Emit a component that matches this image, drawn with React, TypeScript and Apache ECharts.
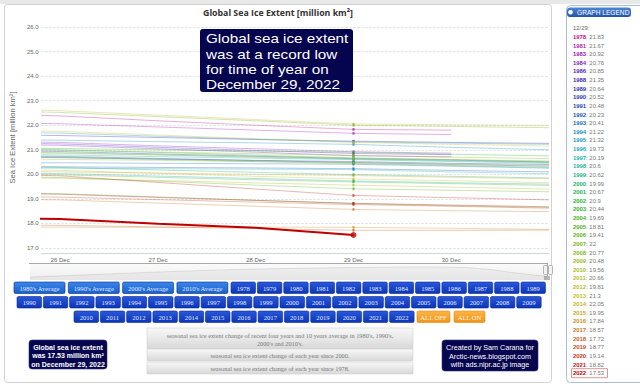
import React, { useEffect, useRef } from "react";
import * as echarts from "echarts";

// ---------- data ----------
const days = [25, 26, 27, 28, 29, 30, 31];
const dayTicks = [26, 27, 28, 29, 30];
const dayLabels = ["26 Dec", "27 Dec", "28 Dec", "29 Dec", "30 Dec"];
const recordDay = 29;

const y1978 = [22.5, 22.38, 22.18, 22.0, 21.83, 21.8, null];
const y1981 = [22.12, 22.06, 21.93, 21.8, 21.67, 21.62, null];
const y1983 = [21.37, 21.3, 21.16, 21.04, 20.92, 20.86, null];
const y1984 = [21.24, 21.18, 21.04, 20.9, 20.76, 20.71, null];
const y1986 = [21.3, 21.24, 21.1, 20.97, 20.85, 20.8, null];
const y1988 = [21.63, 21.58, 21.5, 21.42, 21.35, 21.3, 21.26];
const y1989 = [20.98, 20.93, 20.83, 20.74, 20.64, 20.58, 20.5];
const y1990 = [20.72, 20.68, 20.62, 20.57, 20.52, 20.45, 20.4];
const y1991 = [20.78, 20.73, 20.65, 20.56, 20.48, 20.4, 20.33];
const y1992 = [20.32, 20.31, 20.28, 20.26, 20.23, 20.16, 20.1];
const y1993 = [20.48, 20.47, 20.45, 20.43, 20.41, 20.33, 20.25];
const y1994 = [21.43, 21.39, 21.33, 21.28, 21.22, 21.1, 21.0];
const y1995 = [21.74, 21.68, 21.55, 21.43, 21.32, 21.27, 21.22];
const y1996 = [20.08, 20.03, 19.93, 19.83, 19.73, 19.66, 19.6];
const y1997 = [20.26, 20.25, 20.23, 20.21, 20.19, 20.1, 20.02];
const y1998 = [20.83, 20.79, 20.72, 20.66, 20.6, 20.52, 20.45];
const y1999 = [20.93, 20.88, 20.79, 20.7, 20.62, 20.55, 20.48];
const y2000 = [20.33, 20.28, 20.18, 20.08, 19.99, 19.92, 19.85];
const y2001 = [21.05, 21.0, 20.89, 20.78, 20.67, 20.6, 20.52];
const y2002 = [21.08, 21.05, 21.0, 20.95, 20.9, 20.82, 20.75];
const y2003 = [20.75, 20.7, 20.61, 20.52, 20.44, 20.36, 20.28];
const y2004 = [20.03, 19.98, 19.88, 19.78, 19.69, 19.62, 19.55];
const y2005 = [19.26, 19.21, 19.08, 18.94, 18.81, 18.72, 18.65];
const y2006 = [19.93, 19.87, 19.72, 19.56, 19.41, 19.35, 19.29];
const y2007 = [22.62, 22.52, 22.35, 22.18, 22.0, 21.95, 21.9];
const y2008 = [21.02, 20.98, 20.91, 20.84, 20.77, 20.7, 20.64];
const y2009 = [20.64, 20.61, 20.57, 20.52, 20.48, 20.42, 20.36];
const y2010 = [19.88, 19.84, 19.75, 19.65, 19.56, 19.48, 19.4];
const y2011 = [20.89, 20.85, 20.79, 20.72, 20.66, 20.6, 20.55];
const y2012 = [20.22, 20.16, 20.04, 19.92, 19.81, 19.74, 19.66];
const y2013 = [21.82, 21.75, 21.6, 21.45, 21.3, 21.22, 21.15];
const y2014 = [22.7, 22.59, 22.41, 22.23, 22.05, 22.02, 21.99];
const y2015 = [20.13, 20.1, 20.05, 20.0, 19.95, 19.88, 19.82];
const y2016 = [17.85, 17.85, 17.84, 17.85, 17.84, 17.8, 17.76];
const y2017 = [19.0, 18.96, 18.83, 18.7, 18.57, 18.52, 18.48];
const y2018 = [17.95, 17.92, 17.86, 17.79, 17.72, 17.72, 17.73];
const y2019 = [19.12, 19.07, 18.97, 18.87, 18.77, 18.7, 18.62];
const y2020 = [20.02, 19.94, 19.67, 19.4, 19.14, 19.05, 18.96];
const y2021 = [19.24, 19.19, 19.06, 18.94, 18.82, 18.75, 18.68];
const y2022 = [18.25, 18.18, 17.99, 17.82, 17.53, null, null];

const years = [
  1978, 1981, 1983, 1984, 1986, 1988, 1989, 1990, 1991, 1992, 1993, 1994, 1995, 1996, 1997, 1998, 1999,
  2000, 2001, 2002, 2003, 2004, 2005, 2006, 2007, 2008, 2009, 2010, 2011, 2012, 2013, 2014, 2015, 2016,
  2017, 2018, 2019, 2020, 2021, 2022,
];
const yearValues = [
  y1978, y1981, y1983, y1984, y1986, y1988, y1989, y1990, y1991, y1992, y1993, y1994, y1995, y1996, y1997,
  y1998, y1999, y2000, y2001, y2002, y2003, y2004, y2005, y2006, y2007, y2008, y2009, y2010, y2011, y2012,
  y2013, y2014, y2015, y2016, y2017, y2018, y2019, y2020, y2021, y2022,
];
const yearColors = [
  "#c0148c", "#b01eb4", "#9622bc", "#8226c0", "#5a28b8", "#3c2cae", "#3434b0", "#2a3aac", "#2248b4",
  "#1e5abc", "#1c74c4", "#1a8cc6", "#1a9cc4", "#1aacbe", "#1ab4b0", "#1cb6a0", "#1eb48a", "#20b46e",
  "#22b458", "#28b442", "#34b234", "#44b22a", "#54b224", "#64b420", "#74b41e", "#86b81e", "#96bc1e",
  "#a6be1e", "#b4c01e", "#c0c020", "#c8be22", "#ccb422", "#cca424", "#cc9024", "#c87824", "#c86024",
  "#c84a22", "#c43220", "#bc1c1c", "#c00000",
];

// navigator (overview) shape
const navValues = [0.18, 0.26, 0.34, 0.42, 0.5, 0.57, 0.63, 0.68, 0.72, 0.75, 0.78, 0.8, 0.82, 0.8, 0.7, 0.45, 0.22];

// buttons
const avgButtons = ["1980's Average", "1990's Average", "2000's Average", "2010's Average"];
const row1Years = ["1978", "1979", "1980", "1981", "1982", "1983", "1984", "1985", "1986", "1987", "1988", "1989"];
const row2Years = [
  "1990", "1991", "1992", "1993", "1994", "1995", "1996", "1997", "1998", "1999",
  "2000", "2001", "2002", "2003", "2004", "2005", "2006", "2007", "2008", "2009",
];
const row3Years = ["2010", "2011", "2012", "2013", "2014", "2015", "2016", "2017", "2018", "2019", "2020", "2021", "2022"];
const toggleButtons = ["ALL OFF", "ALL ON"];

const headline = ["Global sea ice extent", "was at a record low", "for time of year on", "December 29, 2022"];
const infoLeft = ["Global sea ice extent", "was 17.53 million km²", "on December 29, 2022"];
const infoRight = ["Created by Sam Carana for", "Arctic-news.blogspot.com", "with ads.nipr.ac.jp image"];
const grayButtons = [
  ["seasonal sea ice extent change of recent four years and 10 years average in 1980's, 1990's,", "2000's and 2010's."],
  ["seasonal sea ice extent change of each year since 2000."],
  ["seasonal sea ice extent change of each year since 1978."],
];

// ---------- helpers ----------
const SANS = "'Liberation Sans', Arial, sans-serif";
const SERIF = "'Liberation Serif', 'Times New Roman', serif";
const grad = (a: string, b: string) =>
  new echarts.graphic.LinearGradient(0, 0, 0, 1, [
    { offset: 0, color: a },
    { offset: 1, color: b },
  ]);

function button(x: number, y: number, w: number, label: string, kind: "avg" | "year" | "toggle") {
  const fill =
    kind === "avg" ? grad("#3c86ea", "#1560cc") : kind === "year" ? grad("#2a58dc", "#0a36b8") : grad("#fcb548", "#f29418");
  const stroke = kind === "toggle" ? "#e08a10" : "#0b2a8a";
  const txt = kind === "toggle" ? "#fff4e0" : "#e2e8ff";
  return [
    { type: "rect", shape: { x, y, width: w, height: 11.5, r: 1.5 }, style: { fill, stroke, lineWidth: 0.6 } },
    {
      type: "text",
      x: x + w / 2,
      y: y + 6,
      style: { text: label, fill: txt, fontSize: 6.6, fontFamily: SERIF, textAlign: "center", textVerticalAlign: "middle" },
    },
  ];
}

function buildGraphics() {
  const g: any[] = [];
  // page strip + panel frame
  g.push({ type: "rect", shape: { x: 0, y: 0, width: 640, height: 4 }, style: { fill: "#e8e8e8" } });
  g.push({ type: "rect", shape: { x: 4.5, y: 4.5, width: 547, height: 378, r: 3 }, style: { fill: "none", stroke: "#d2d2d2", lineWidth: 1 } });
  // title
  g.push({
    type: "text",
    x: 278,
    y: 13,
    style: {
      text: "Global Sea Ice Extent [million km²]",
      fill: "#333",
      fontSize: 8.8,
      fontWeight: "bold",
      fontFamily: "'Open Sans', sans-serif",
      textAlign: "center",
      textVerticalAlign: "middle",
    },
  });
  // headline box
  g.push({ type: "rect", z: 10, shape: { x: 200, y: 29, width: 153, height: 63, r: 3 }, style: { fill: "#05044f" } });
  headline.forEach((t, i) =>
    g.push({
      type: "text",
      z: 11,
      x: 206,
      y: 38.8 + i * 15.2,
      scaleX: 1.13,
      style: {
        text: t,
        fill: "#fff",
        fontSize: 13.5,
        fontFamily: SANS,
        textAlign: "left",
        textVerticalAlign: "middle",
      },
    })
  );
  // navigator background
  g.push({ type: "rect", shape: { x: 30, y: 263, width: 518, height: 17 }, style: { fill: grad("#fbfbfb", "#eeeeee") } });
  g.push({ type: "line", shape: { x1: 29, y1: 263.5, x2: 548, y2: 263.5 }, style: { stroke: "#a8a8a8", lineWidth: 1 } });
  g.push({ type: "line", shape: { x1: 547.5, y1: 263, x2: 547.5, y2: 280 }, style: { stroke: "#a8a8a8", lineWidth: 1 } });
  g.push({ type: "rect", shape: { x: 543.5, y: 265.5, width: 4, height: 9, r: 1 }, style: { fill: "#f2f2f2", stroke: "#999", lineWidth: 0.7 } });
  g.push({ type: "rect", shape: { x: 548.5, y: 265.5, width: 4, height: 9, r: 1 }, style: { fill: "#f2f2f2", stroke: "#999", lineWidth: 0.7 } });
  g.push({ type: "rect", shape: { x: 544, y: 276, width: 6, height: 4 }, style: { fill: "#b8b8b8" } });

  // buttons
  avgButtons.forEach((t, i) => g.push(...button(14 + i * 54.3, 282, 51, t, "avg")));
  row1Years.forEach((t, i) => g.push(...button(231 + i * 26.36, 282, 24.5, t, "year")));
  row2Years.forEach((t, i) => g.push(...button(17 + i * 26.3, 296.5, 24.5, t, "year")));
  row3Years.forEach((t, i) => g.push(...button(74 + i * 26.3, 311, 24.5, t, "year")));
  g.push(...button(417, 311, 33, toggleButtons[0], "toggle"));
  g.push(...button(454, 311, 31, toggleButtons[1], "toggle"));

  // gray buttons
  const gy = [328, 349, 362];
  const gh = [21, 12, 12];
  grayButtons.forEach((lines, i) => {
    g.push({ type: "rect", shape: { x: 147, y: gy[i], width: 266, height: gh[i], r: 1 }, style: { fill: grad("#f8f8f8", "#d8d8d8"), stroke: "#d0d0d0", lineWidth: 0.6 } });
    lines.forEach((t, j) =>
      g.push({
        type: "text",
        x: 280,
        y: gy[i] + (lines.length > 1 ? 7.5 + j * 7.5 : 6.5),
        style: { text: t, fill: "#7a7a7a", fontSize: 6.3, fontFamily: SERIF, textAlign: "center", textVerticalAlign: "middle" },
      })
    );
  });

  // info boxes
  g.push({ type: "rect", shape: { x: 29, y: 340, width: 78, height: 29, r: 3 }, style: { fill: "#06064e", stroke: "#30307a", lineWidth: 0.6 } });
  infoLeft.forEach((t, i) =>
    g.push({
      type: "text",
      x: 68,
      y: 347.5 + i * 8.3,
      style: { text: t, fill: "#fff", fontSize: 7, fontWeight: "bold", fontFamily: SANS, textAlign: "center", textVerticalAlign: "middle" },
    })
  );
  g.push({ type: "rect", shape: { x: 442, y: 340, width: 96, height: 31, r: 3 }, style: { fill: "#06064e", stroke: "#30307a", lineWidth: 0.6 } });
  infoRight.forEach((t, i) =>
    g.push({
      type: "text",
      x: 490,
      y: 347.5 + i * 8.5,
      style: { text: t, fill: "#fff", fontSize: 7.2, fontFamily: SANS, textAlign: "center", textVerticalAlign: "middle" },
    })
  );

  // legend panel
  g.push({ type: "rect", shape: { x: 566.5, y: 5.5, width: 80, height: 377, r: 4 }, style: { fill: "#fff", stroke: "#a9bdd6", lineWidth: 1 } });
  g.push({ type: "rect", shape: { x: 567, y: 7.5, width: 64, height: 9.5, r: 3 }, style: { fill: grad("#4f86d6", "#1f54a8") } });
  g.push({ type: "circle", shape: { cx: 570.5, cy: 12.2, r: 2.3 }, style: { fill: "#fff" } });
  g.push({
    type: "text",
    x: 577,
    y: 12.4,
    style: { text: "GRAPH LEGEND", fill: "#fff", fontSize: 6.6, fontFamily: SANS, textAlign: "left", textVerticalAlign: "middle" },
  });
  g.push({
    type: "text",
    x: 573,
    y: 28,
    style: { text: "12/29:", fill: "#666", fontSize: 5.9, fontFamily: SANS, textAlign: "left", textVerticalAlign: "middle" },
  });
  years.forEach((yr, i) => {
    const v = yearValues[i][days.indexOf(recordDay)];
    g.push({
      type: "text",
      x: 573,
      y: 37 + i * 8.62,
      style: {
        text: `{a|${yr}}{b|: ${v}}`,
        textVerticalAlign: "middle",
        rich: {
          a: { fill: yearColors[i], fontSize: 5.9, fontWeight: "bold", fontFamily: SANS },
          b: { fill: "#777", fontSize: 5.9, fontFamily: SANS },
        },
      },
    });
  });
  g.push({
    type: "rect",
    shape: { x: 571.5, y: 37 + (years.length - 1) * 8.62 - 4.5, width: 36, height: 9 },
    style: { fill: "none", stroke: "#d46a6a", lineWidth: 0.7 },
  });
  return g;
}

function buildOption() {
  const lastIdx = years.length - 1;
  const lineSeries = years.map((yr, i) => {
    const isLast = i === lastIdx;
    return {
      name: String(yr),
      type: "line",
      xAxisIndex: 0,
      yAxisIndex: 0,
      data: days.map((d, k) => [d, yearValues[i][k]]),
      symbol: "none",
      clip: true,
      silent: true,
      z: isLast ? 6 : 2,
      lineStyle: { width: isLast ? 2 : 1, color: yearColors[i], opacity: isLast ? 1 : 0.35 },
    };
  });
  const dotIdx = days.indexOf(recordDay);
  const dots = {
    type: "scatter",
    xAxisIndex: 0,
    yAxisIndex: 0,
    symbol: "rect",
    symbolSize: [2, 2.6],
    silent: true,
    z: 4,
    data: years.slice(0, lastIdx).map((yr, i) => ({ value: [recordDay, yearValues[i][dotIdx]], itemStyle: { color: yearColors[i] } })),
  };
  const recordDot = {
    type: "scatter",
    xAxisIndex: 0,
    yAxisIndex: 0,
    symbol: "circle",
    symbolSize: 6,
    silent: true,
    z: 7,
    data: [[recordDay, yearValues[lastIdx][dotIdx]]],
    itemStyle: { color: yearColors[lastIdx] },
  };
  const nav = {
    type: "line",
    xAxisIndex: 1,
    yAxisIndex: 1,
    data: navValues.map((v, i) => [i, v]),
    smooth: true,
    symbol: "none",
    silent: true,
    lineStyle: { width: 0.8, color: "rgba(0,0,0,0.12)" },
    areaStyle: { color: "rgba(0,0,0,0.05)" },
  };

  return {
    animation: false,
    backgroundColor: "#ffffff",
    grid: [
      { left: 30, top: 27, width: 519, height: 221 },
      { left: 30, top: 264, width: 517, height: 16 },
    ],
    xAxis: [
      {
        type: "value",
        gridIndex: 0,
        min: 25.81,
        max: 31,
        offset: 5,
        axisLine: { show: true, lineStyle: { color: "#ccd6e0", width: 1 } },
        axisTick: { show: false },
        splitLine: { show: false },
        axisLabel: {
          customValues: dayTicks,
          formatter: (v: number) => dayLabels[dayTicks.indexOf(v)] ?? "",
          color: "#666",
          fontSize: 6,
          fontFamily: SANS,
          margin: 4,
        },
      },
      { type: "value", gridIndex: 1, min: 0, max: navValues.length - 1, show: false },
    ],
    yAxis: [
      {
        type: "value",
        gridIndex: 0,
        min: 17,
        max: 26,
        interval: 1,
        name: "Sea Ice Extent [million km²]",
        nameLocation: "middle",
        nameGap: 19,
        nameTextStyle: { color: "#666", fontSize: 7.6, fontFamily: SANS },
        axisLine: { show: false },
        axisTick: { show: false },
        splitLine: { show: true, lineStyle: { color: "#dcdcdc", type: [2, 2], width: 1 } },
        axisLabel: { formatter: (v: number) => v.toFixed(1), color: "#666", fontSize: 6, fontFamily: SANS, margin: 3 },
      },
      { type: "value", gridIndex: 1, min: 0, max: 1, show: false },
    ],
    graphic: buildGraphics(),
    series: [...lineSeries, dots, recordDot, nav],
  };
}

export default function App() {
  const ref = useRef<HTMLDivElement>(null);
  useEffect(() => {
    if (!ref.current) return;
    const chart = echarts.init(ref.current, null, { renderer: "svg" });
    chart.setOption(buildOption() as any);
    return () => chart.dispose();
  }, []);
  return (
    <div
      ref={ref}
      style={{ position: "fixed", left: 0, top: 0, width: 640, height: 386, background: "#fff" }}
    />
  );
}
